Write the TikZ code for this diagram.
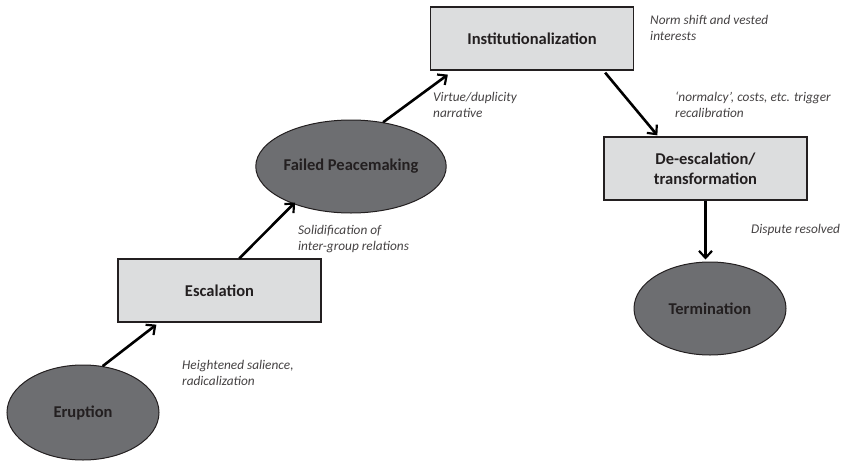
\documentclass[tikz,border=0pt]{standalone}
\usepackage{fontspec}
\setmainfont{Carlito}
\usetikzlibrary{arrows.meta,shapes.geometric,calc}
\definecolor{ellfill}{HTML}{6D6E71}
\definecolor{boxfill}{HTML}{DCDDDE}
\definecolor{edge}{HTML}{231F20}
\tikzset{
  stage/.style={draw=edge, line width=1.3pt, fill=boxfill, minimum width=203pt, minimum height=63pt, inner sep=0pt, align=center, font=\fontsize{16.5}{20}\selectfont\bfseries, text=edge},
  phase/.style={ellipse, draw=edge, line width=1pt, fill=ellfill, inner sep=0pt, align=center, font=\fontsize{16.5}{20}\selectfont\bfseries, text=edge},
  note/.style={anchor=west, inner sep=0pt, align=left, font=\fontsize{13.3}{16}\selectfont\itshape, text=edge!85},
  flow/.style={line width=2.6pt, draw=black, -{Straight Barb[length=7pt,width=13pt,line width=2.2pt]}},
}
\begin{document}
\begin{tikzpicture}[x=1pt,y=-1pt]
\useasboundingbox (0,0) rectangle (844,461);
\node[phase, minimum width=152pt, minimum height=95pt] (er) at (83,412.5) {Eruption};
\node[stage] (esc) at (219.5,290.5) {Escalation};
\node[phase, minimum width=154pt, minimum height=93pt] (fp) at (351,166.5) {Failed Peacemaking};
\node[stage] (inst) at (532,38.5) {Institutionalization};
\node[stage] (de) at (705.5,168.5) {De-escalation/\\transformation};
\node[phase, minimum width=152pt, minimum height=93pt] (term) at (710,308.5) {Termination};

\draw[flow] (er.67) -- ($(esc.south west)+(39,2)$);
\draw[flow] ($(esc.north west)+(122,0)$) -- ($(fp.center)+(-56,36)$);
\draw[flow] (fp.54) -- ($(inst.south west)+(18,4)$);
\draw[flow] ($(inst.south east)+(-29,2)$) -- ($(de.north west)+(54,-1)$);
\draw[flow] (de.south) -- ($(de.south |- term.north)+(0,-2)$);

\node[note] (n1) at (182,372.5) {Heightened salience,\\radicalization};
\node[note] (n2) at (298,239.5) {Solidification of\\inter-group relations};
\node[note] (n3) at (433,104.5) {Virtue/duplicity\\narrative};
\node[note] (n4) at (650,27.5) {Norm shift and vested\\interests};
\node[note] (n5) at (675,104.5) {‘normalcy’, costs, etc. trigger\\recalibration};
\node[note] (n6) at (751,230) {Dispute resolved};
\end{tikzpicture}
\end{document}
